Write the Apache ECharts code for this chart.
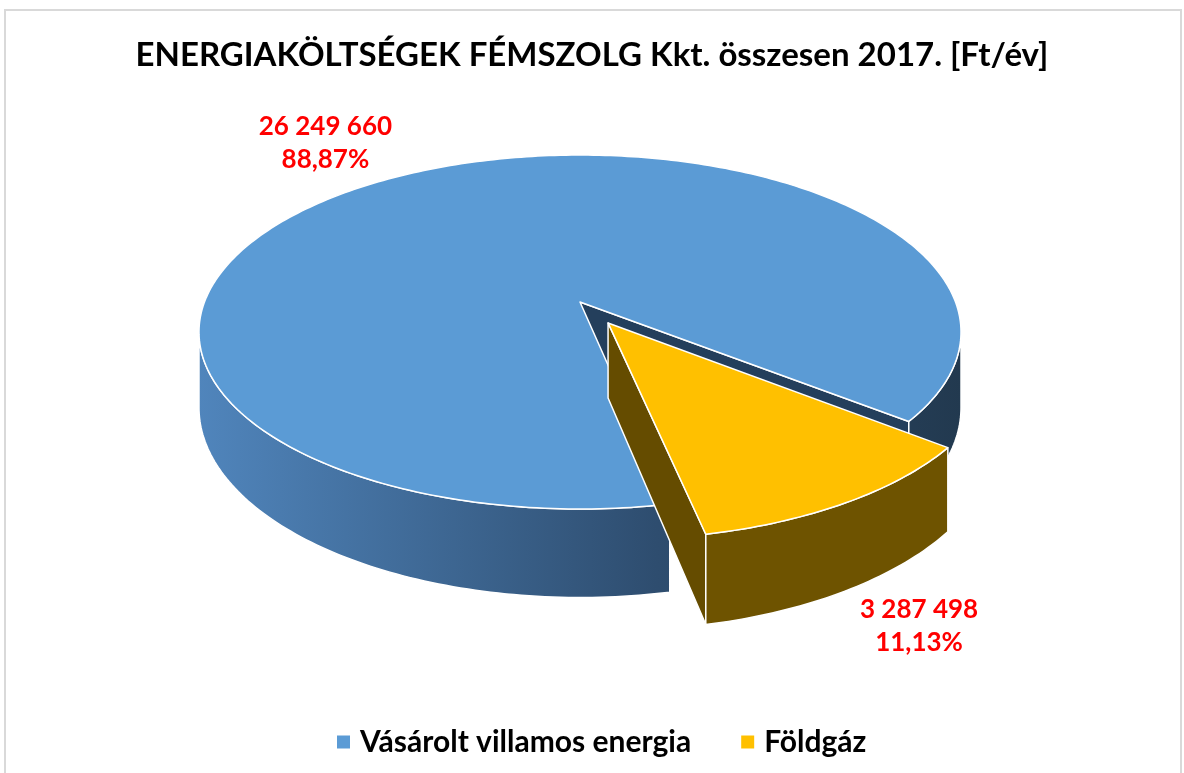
<!DOCTYPE html>
<html>
<head>
<meta charset="utf-8">
<title>Energiaköltségek</title>
<script src="https://cdn.jsdelivr.net/npm/echarts@6/dist/echarts.min.js"></script>
<style>
  html, body { margin: 0; padding: 0; background: #fff; }
  #chart { width: 1184px; height: 773px; }
</style>
</head>
<body>
<div id="chart"></div>
<script>
// data
const categories = ['Vásárolt villamos energia', 'Földgáz'];
const values = [26249660, 3287498];
const titleText = 'ENERGIAKÖLTSÉGEK FÉMSZOLG Kkt. összesen 2017. [Ft/év]';

// look
const topColors = ['#5B9BD5', '#FFC000'];
const radialWallColors = ['#243F5C', '#654C00'];
const FONT = 'Lato, "Open Sans", sans-serif';

// fake 3d pie: a tilted disc seen with a bit of perspective (pixels)
const P = { cx: 580, cy: 302, w: 375.5, k: 171.9, a: 0.1695, h: 73.5 };
const explode = [0, 0.14];       // fraction of the radius
const labelOffset = [[-83, -31], [71, 124]];
const START = 168.5;              // degrees clockwise from 12 o'clock

const total = values.reduce((a, b) => a + b, 0);
let acc = START;
const slices = values.map((v, i) => {
  const a0 = acc;
  const a1 = acc + v / total * 360;
  acc = a1;
  const mid = (a0 + a1) / 2;
  const t = mid * Math.PI / 180;
  return { a0, a1, mid, ox: explode[i] * Math.sin(t), oz: explode[i] * Math.cos(t) };
});

const fmtNum = (v) => String(v).replace(/\B(?=(\d{3})+(?!\d))/g, ' ');
const fmtPct = (v) => (v / total * 100).toFixed(2).replace('.', ',') + '%';

// x across, z into the screen (both in radius units), down = 0 top face / 1 bottom face
function project(x, z, down) {
  const den = 1 + P.a * z;
  return [P.cx + P.w * x / den, P.cy + (-P.k * z + P.h * (down || 0)) / den];
}
function rim(s, deg, down) {
  const t = deg * Math.PI / 180;
  return project(s.ox + Math.sin(t), s.oz + Math.cos(t), down);
}
function apex(s, down) {
  return project(s.ox, s.oz, down);
}
function arc(s, from, to, down) {
  const pts = [];
  const n = Math.max(2, Math.ceil(Math.abs(to - from)));
  for (let k = 0; k <= n; k++) pts.push(rim(s, from + (to - from) * k / n, down));
  return pts;
}

const wallGradient = () => new echarts.graphic.LinearGradient(
  P.cx - 382, 0, P.cx + 382, 0,
  [
    { offset: 0, color: '#5085BC' },
    { offset: 0.6, color: '#2E4D6F' },
    { offset: 1, color: '#22394F' }
  ], true);

// silhouette of the cylinder: front half is where cos(theta) < -a
const SIDE = Math.acos(-P.a) * 180 / Math.PI;

function renderSlice(i) {
  return function (params, api) {
    const s = slices[i];
    const children = [];
    const edge = { stroke: '#fff', lineWidth: 1.5, lineJoin: 'round' };

    // radial walls that face the viewer
    [[s.a0, s.a0 - 90], [s.a1, s.a1 + 90]].forEach(([ang, n]) => {
      if (Math.cos(n * Math.PI / 180) < 0) {
        children.push({
          type: 'polygon',
          shape: { points: [apex(s), rim(s, ang), rim(s, ang, 1), apex(s, 1)] },
          style: Object.assign({ fill: radialWallColors[i] }, edge)
        });
      }
    });

    // outer wall, front part only
    for (let k = -1; k <= 2; k++) {
      const lo = Math.max(s.a0, SIDE + 360 * k);
      const hi = Math.min(s.a1, 360 - SIDE + 360 * k);
      if (hi > lo) {
        const topPts = arc(s, lo, hi, 0);
        const botPts = arc(s, hi, lo, 1);
        children.push({
          type: 'polygon',
          shape: { points: topPts.concat(botPts) },
          style: Object.assign({ fill: i === 0 ? wallGradient() : '#6E5300' }, edge)
        });
      }
    }

    // top face
    children.push({
      type: 'polygon',
      shape: { points: [apex(s)].concat(arc(s, s.a0, s.a1, 0)) },
      style: Object.assign({ fill: topColors[i] }, edge)
    });

    // label
    const v = api.value(0);
    const p = rim(s, s.mid, 0);
    children.push({
      type: 'text',
      x: p[0] + labelOffset[i][0],
      y: p[1] + labelOffset[i][1],
      style: {
        text: fmtNum(v) + '\n' + fmtPct(v),
        fill: '#FF0000',
        font: 'bold 26px ' + FONT,
        align: 'center',
        verticalAlign: 'middle',
        lineHeight: 33
      }
    });

    return { type: 'group', children };
  };
}

const chart = echarts.init(document.getElementById('chart'));

chart.setOption({
  backgroundColor: '#fff',
  animation: false,
  color: topColors,
  title: {
    text: titleText,
    left: 'center',
    top: 34,
    textStyle: { fontFamily: FONT, fontWeight: 'bold', fontSize: 33, color: '#000' }
  },
  legend: {
    data: categories,
    bottom: 16,
    left: 337,
    icon: 'rect',
    itemWidth: 13,
    itemHeight: 13,
    itemGap: 50,
    padding: 0,
    textStyle: {
      fontFamily: FONT, fontWeight: 'bold', fontSize: 30, color: '#000',
      padding: [0, 0, 0, 5]
    }
  },
  graphic: [{
    type: 'rect',
    z: -10,
    silent: true,
    shape: { x: 5, y: 10, width: 1176, height: 800 },
    style: { fill: 'none', stroke: '#D9D9D9', lineWidth: 2 }
  }],
  series: categories.map((name, i) => ({
    type: 'custom',
    name: name,
    coordinateSystem: 'none',
    itemStyle: { color: topColors[i] },
    renderItem: renderSlice(i),
    data: [{ name: name, value: values[i] }]
  }))
});

window.addEventListener('resize', () => chart.resize());
</script>
</body>
</html>
